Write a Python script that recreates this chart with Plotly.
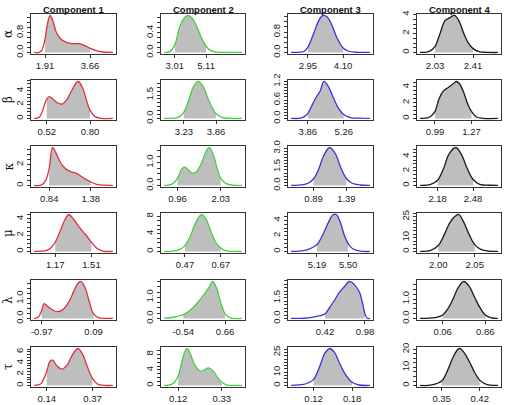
import plotly.graph_objects as go

W, H = 508, 405

params = ["α", "β", "κ", "μ", "λ", "τ"]
components = ["Component 1", "Component 2", "Component 3", "Component 4"]
line_colors = ["#E0303C", "#45D045", "#3636D8", "#1A1A1A"]

# ---------------- alpha ----------------
alpha_c1_x = [1.487, 1.684, 1.790, 1.91, 2.001, 2.106, 2.212, 2.343, 2.502, 2.699, 2.963, 3.226, 3.450, 3.66, 3.885, 4.149, 4.544]
alpha_c1_y = [0.005, 0.01, 0.10, 0.55, 1.15, 1.50, 1.29, 0.83, 0.57, 0.43, 0.36, 0.36, 0.28, 0.17, 0.076, 0.02, 0.005]
alpha_c2_x = [2.286, 2.670, 3.01, 3.347, 3.618, 3.866, 4.137, 4.476, 4.815, 5.11, 5.424, 5.944, 6.7, 7.52]
alpha_c2_y = [0.003, 0.017, 0.16, 0.53, 0.69, 0.75, 0.71, 0.53, 0.29, 0.127, 0.038, 0.006, 0.003, 0.002]
alpha_c3_x = [2.403, 2.699, 2.830, 2.95, 3.137, 3.301, 3.443, 3.575, 3.739, 3.903, 4.10, 4.286, 4.505, 4.975]
alpha_c3_y = [0.005, 0.015, 0.05, 0.21, 0.74, 1.24, 1.45, 1.40, 1.06, 0.57, 0.18, 0.05, 0.01, 0.004]
alpha_c4_x = [1.882, 1.948, 1.988, 2.03, 2.080, 2.130, 2.179, 2.225, 2.268, 2.318, 2.364, 2.41, 2.469, 2.542, 2.657]
alpha_c4_y = [0.01, 0.05, 0.2, 0.62, 1.99, 3.35, 3.67, 3.9, 3.35, 1.99, 0.98, 0.41, 0.09, 0.02, 0.005]

# ---------------- beta ----------------
beta_c1_x = [0.4386, 0.4715, 0.4934, 0.52, 0.5372, 0.5592, 0.5898, 0.6183, 0.6512, 0.6841, 0.7213, 0.7498, 0.7783, 0.80, 0.831, 0.870, 0.947]
beta_c1_y = [0.02, 0.17, 1.17, 2.80, 3.15, 2.80, 2.25, 2.06, 2.75, 4.14, 5.33, 4.53, 2.50, 1.17, 0.27, 0.03, 0.01]
beta_c2_x = [2.843, 3.053, 3.151, 3.23, 3.315, 3.414, 3.512, 3.597, 3.689, 3.775, 3.86, 3.971, 4.136, 4.365]
beta_c2_y = [0.005, 0.03, 0.14, 0.41, 1.07, 2.01, 2.37, 2.10, 1.40, 0.74, 0.30, 0.08, 0.01, 0.003]
beta_c3_x = [3.208, 3.561, 3.717, 3.86, 4.057, 4.214, 4.345, 4.489, 4.672, 4.868, 5.064, 5.26, 5.52, 5.913, 6.279]
beta_c3_y = [0.005, 0.01, 0.06, 0.17, 0.49, 0.73, 0.90, 1.20, 1.02, 0.65, 0.32, 0.13, 0.03, 0.01, 0.003]
beta_c4_x = [0.8757, 0.9317, 0.9647, 0.99, 1.023, 1.0537, 1.0918, 1.1249, 1.1554, 1.1808, 1.2139, 1.2444, 1.27, 1.308, 1.359, 1.473]
beta_c4_y = [0.02, 0.07, 0.37, 0.90, 2.58, 3.46, 3.94, 4.34, 4.69, 4.34, 3.15, 1.70, 0.90, 0.2, 0.03, 0.01]

# ---------------- kappa ----------------
kappa_c1_x = [0.6443, 0.7401, 0.7967, 0.84, 0.8838, 0.9274, 0.9796, 1.0450, 1.1190, 1.1974, 1.2845, 1.38, 1.4588, 1.5676, 1.668]
kappa_c1_y = [0.01, 0.05, 0.51, 1.65, 3.65, 3.13, 2.31, 1.65, 1.33, 1.16, 0.74, 0.34, 0.11, 0.03, 0.01]
kappa_c2_x = [0.6291, 0.8116, 0.96, 1.0604, 1.1433, 1.2263, 1.3258, 1.4336, 1.5580, 1.6658, 1.7488, 1.8483, 1.9478, 2.03, 2.1635, 2.346, 2.553]
kappa_c2_y = [0.005, 0.05, 0.31, 0.71, 0.80, 0.68, 0.53, 0.61, 0.99, 1.47, 1.65, 1.32, 0.71, 0.31, 0.08, 0.01, 0.005]
kappa_c3_x = [0.5479, 0.7368, 0.8134, 0.89, 0.9666, 1.0432, 1.1350, 1.2219, 1.3087, 1.39, 1.4771, 1.6048, 1.7478]
kappa_c3_y = [0.01, 0.07, 0.2, 0.54, 1.30, 2.40, 3.06, 2.56, 1.39, 0.56, 0.18, 0.04, 0.01]
kappa_c4_x = [2.0315, 2.1155, 2.18, 2.2276, 2.2780, 2.3340, 2.3817, 2.4293, 2.48, 2.5357, 2.6198, 2.6898]
kappa_c4_y = [0.02, 0.12, 0.73, 2.23, 4.38, 5.23, 4.24, 2.37, 0.82, 0.16, 0.03, 0.01]

# ---------------- mu ----------------
mu_c1_x = [0.9725, 1.0903, 1.1284, 1.17, 1.2175, 1.2589, 1.2971, 1.3385, 1.3830, 1.4339, 1.4721, 1.51, 1.5612, 1.6153, 1.7108]
mu_c1_y = [0.02, 0.15, 0.44, 1.14, 2.51, 3.87, 4.54, 4.04, 3.21, 2.38, 1.80, 1.14, 0.39, 0.06, 0.01]
mu_c2_x = [0.3538, 0.4044, 0.4418, 0.47, 0.4979, 0.5260, 0.5504, 0.5653, 0.5878, 0.6140, 0.6421, 0.67, 0.7001, 0.7506, 0.788]
mu_c2_y = [0.02, 0.11, 0.5, 1.34, 3.33, 6.17, 7.93, 8.38, 7.31, 4.63, 2.1, 0.8, 0.12, 0.02, 0.005]
mu_c3_x = [4.9333, 5.0565, 5.1232, 5.19, 5.2497, 5.3063, 5.3496, 5.3829, 5.4229, 5.4629, 5.50, 5.5495, 5.6227, 5.716]
mu_c3_y = [0.01, 0.11, 0.37, 0.89, 2.18, 3.78, 4.69, 4.73, 3.70, 2.05, 1.02, 0.32, 0.05, 0.01]
mu_c4_x = [1.9750, 1.9886, 2.00, 2.0077, 2.0159, 2.0227, 2.0278, 2.0341, 2.0423, 2.05, 2.0592, 2.0705, 2.0819]
mu_c4_y = [0.1, 0.6, 4.3, 11.6, 20.8, 25.2, 26.6, 22.0, 12.3, 5.0, 1.3, 0.2, 0.05]

# ---------------- lambda ----------------
lambda_c1_x = [-1.1227, -1.0396, -0.97, -0.9218, -0.8317, -0.7278, -0.6239, -0.5199, -0.416, -0.3121, -0.2289, -0.1735, -0.0904, 0.0017, 0.09, 0.2076, 0.33, 0.4847]
lambda_c1_y = [0.01, 0.06, 0.40, 0.74, 0.57, 0.40, 0.35, 0.48, 0.82, 1.37, 1.76, 1.85, 1.59, 0.86, 0.23, 0.03, 0.008, 0.005]
lambda_c2_x = [-1.087, -0.8278, -0.54, -0.3479, -0.1559, 0.0361, 0.1801, 0.3049, 0.4201, 0.5352, 0.66, 0.8041, 1.140]
lambda_c2_y = [0.02, 0.06, 0.18, 0.38, 0.70, 1.10, 1.42, 1.75, 1.42, 0.75, 0.22, 0.03, 0.005]
lambda_c3_x = [-0.0519, 0.1315, 0.2919, 0.42, 0.4890, 0.5532, 0.6266, 0.6907, 0.7641, 0.8283, 0.9016, 0.9474, 0.98, 1.0116, 1.048]
lambda_c3_y = [0.01, 0.02, 0.14, 0.33, 0.83, 1.33, 1.94, 2.32, 2.70, 2.49, 1.94, 1.08, 0.33, 0.02, 0.0]
lambda_c4_x = [-0.3634, -0.1148, 0.06, 0.1649, 0.2581, 0.3513, 0.4569, 0.5564, 0.6620, 0.7552, 0.86, 0.9727, 1.097]
lambda_c4_y = [0.01, 0.03, 0.18, 0.53, 1.02, 1.58, 1.90, 1.66, 1.08, 0.58, 0.18, 0.03, 0.005]

# ---------------- tau ----------------
tau_c1_x = [0.0767, 0.1091, 0.1261, 0.14, 0.1568, 0.1705, 0.1910, 0.2166, 0.2421, 0.2677, 0.2967, 0.3189, 0.3445, 0.37, 0.3957, 0.4298, 0.4725]
tau_c1_y = [0.03, 0.26, 1.27, 2.56, 4.33, 4.51, 3.50, 2.92, 3.62, 5.39, 6.6, 5.69, 3.33, 1.27, 0.26, 0.04, 0.01]
tau_c2_x = [0.0524, 0.0879, 0.1040, 0.12, 0.1363, 0.1525, 0.1638, 0.1799, 0.2009, 0.2252, 0.2445, 0.2655, 0.2898, 0.3108, 0.33, 0.3544, 0.4028, 0.427]
tau_c2_y = [0.02, 0.3, 0.98, 2.41, 5.64, 8.78, 9.5, 7.93, 5.22, 3.69, 3.94, 4.54, 3.69, 2.0, 0.81, 0.13, 0.02, 0.005]
tau_c3_x = [0.0850, 0.1043, 0.1121, 0.12, 0.1293, 0.1372, 0.1450, 0.1528, 0.1606, 0.1695, 0.18, 0.1904, 0.2076]
tau_c3_y = [0.05, 0.8, 2.1, 4.6, 14.1, 24.1, 28, 24.9, 16.6, 8.4, 2.4, 0.4, 0.05]
tau_c4_x = [0.3104, 0.3317, 0.35, 0.3603, 0.3713, 0.3823, 0.3926, 0.4018, 0.4109, 0.42, 0.4322, 0.4535]
tau_c4_y = [0.05, 0.3, 2.5, 7.95, 15.8, 20.5, 17.7, 12.7, 7.2, 3.0, 0.6, 0.05]

# 95% interval endpoints (x tick labels)
alpha_lo = [1.91, 3.01, 2.95, 2.03];   alpha_hi = [3.66, 5.11, 4.10, 2.41]
beta_lo = [0.52, 3.23, 3.86, 0.99];    beta_hi = [0.80, 3.86, 5.26, 1.27]
kappa_lo = [0.84, 0.96, 0.89, 2.18];   kappa_hi = [1.38, 2.03, 1.39, 2.48]
mu_lo = [1.17, 0.47, 5.19, 2.00];      mu_hi = [1.51, 0.67, 5.50, 2.05]
lambda_lo = [-0.97, -0.54, 0.42, 0.06]; lambda_hi = [0.09, 0.66, 0.98, 0.86]
tau_lo = [0.14, 0.12, 0.12, 0.35];     tau_hi = [0.37, 0.33, 0.18, 0.42]

# y tick labels and tick spacing
alpha_ylab = [["0.0", "0.8"], ["0.0", "0.4"], ["0.0", "0.8"], ["0", "2", "4"]]
beta_ylab = [["0", "2", "4"], ["0.0", "1.5"], ["0.0", "0.6", "1.2"], ["0", "2", "4"]]
kappa_ylab = [["0", "2"], ["0.0", "1.0"], ["0.0", "1.5", "3.0"], ["0", "2", "4"]]
mu_ylab = [["0", "2", "4"], ["0", "4", "8"], ["0", "2", "4"], ["0", "10", "25"]]
lambda_ylab = [["0.0", "1.0"], ["0.0", "1.0"], ["0.0", "1.5"], ["0.0", "1.0"]]
tau_ylab = [["0", "2", "4", "6"], ["0", "4", "8"], ["0", "10", "25"], ["0", "10", "20"]]

alpha_ystep = [0.2, 0.1, 0.2, 0.5]
beta_ystep = [0.5, 0.25, 0.1, 0.5]
kappa_ystep = [0.5, 0.25, 0.25, 0.5]
mu_ystep = [0.5, 1, 0.5, 2.5]
lambda_ystep = [0.25, 0.25, 0.25, 0.25]
tau_ystep = [0.5, 1, 2.5, 2.5]

rows = [
    ([alpha_c1_x, alpha_c2_x, alpha_c3_x, alpha_c4_x], [alpha_c1_y, alpha_c2_y, alpha_c3_y, alpha_c4_y], alpha_lo, alpha_hi, alpha_ylab, alpha_ystep),
    ([beta_c1_x, beta_c2_x, beta_c3_x, beta_c4_x], [beta_c1_y, beta_c2_y, beta_c3_y, beta_c4_y], beta_lo, beta_hi, beta_ylab, beta_ystep),
    ([kappa_c1_x, kappa_c2_x, kappa_c3_x, kappa_c4_x], [kappa_c1_y, kappa_c2_y, kappa_c3_y, kappa_c4_y], kappa_lo, kappa_hi, kappa_ylab, kappa_ystep),
    ([mu_c1_x, mu_c2_x, mu_c3_x, mu_c4_x], [mu_c1_y, mu_c2_y, mu_c3_y, mu_c4_y], mu_lo, mu_hi, mu_ylab, mu_ystep),
    ([lambda_c1_x, lambda_c2_x, lambda_c3_x, lambda_c4_x], [lambda_c1_y, lambda_c2_y, lambda_c3_y, lambda_c4_y], lambda_lo, lambda_hi, lambda_ylab, lambda_ystep),
    ([tau_c1_x, tau_c2_x, tau_c3_x, tau_c4_x], [tau_c1_y, tau_c2_y, tau_c3_y, tau_c4_y], tau_lo, tau_hi, tau_ylab, tau_ystep),
]

# panel box positions in pixels
col_px = [(31, 116), (161, 245), (288, 373), (417, 501)]
row_px = [(14, 54), (80, 120), (146, 187), (213, 253), (280, 320), (347, 387)]

FONT = "Liberation Sans, Arial, Helvetica, sans-serif"
AXCOL = "#333333"
TXTCOL = "#1a1a1a"

fig = go.Figure()
layout = dict(
    width=W, height=H,
    margin=dict(l=0, r=0, t=0, b=0, autoexpand=False),
    paper_bgcolor="white", plot_bgcolor="white",
    showlegend=False,
    font=dict(family=FONT, size=9.5, color=TXTCOL),
)
annotations = []

for r, (xs, ys, los, his, ylabs, ysteps) in enumerate(rows):
    for c in range(4):
        i = r * 4 + c + 1
        xa = "x" if i == 1 else f"x{i}"
        ya = "y" if i == 1 else f"y{i}"
        x, y = xs[c], ys[c]
        lo, hi = los[c], his[c]
        fx = [xv for xv in x if lo - 1e-9 <= xv <= hi + 1e-9]
        fy = [yv for xv, yv in zip(x, y) if lo - 1e-9 <= xv <= hi + 1e-9]
        fig.add_trace(go.Scatter(x=fx, y=fy, mode="lines", fill="tozeroy",
                                 fillcolor="#BEBEBE", line=dict(width=0, shape="spline", color="#BEBEBE"),
                                 xaxis=xa, yaxis=ya, hoverinfo="skip"))
        fig.add_trace(go.Scatter(x=x, y=y, mode="lines",
                                 line=dict(color=line_colors[c], width=1.3, shape="spline"),
                                 xaxis=xa, yaxis=ya, hoverinfo="skip"))
        xmin, xmax = min(x), max(x)
        xr = [xmin - 0.04 * (xmax - xmin), xmax + 0.04 * (xmax - xmin)]
        ymax = max(y)
        yr = [-0.04 * ymax, 1.04 * ymax]
        step = ysteps[c]
        labs = {round(float(s), 6): s for s in ylabs[c]}
        tv, tt = [], []
        k = 0
        while k * step <= yr[1] + 1e-9:
            v = round(k * step, 6)
            tv.append(v)
            tt.append(labs.get(v, ""))
            k += 1
        x0, x1 = col_px[c]
        t0, t1 = row_px[r]
        xdom = [x0 / W, x1 / W]
        ydom = [1 - t1 / H, 1 - t0 / H]
        common = dict(showline=True, mirror=True, linecolor=AXCOL, linewidth=1,
                      showgrid=False, zeroline=False, ticks="outside", ticklen=3,
                      tickwidth=1, tickcolor=AXCOL, automargin=False,
                      tickfont=dict(family=FONT, size=9.5, color=TXTCOL))
        layout["xaxis" if i == 1 else f"xaxis{i}"] = dict(
            common, domain=xdom, anchor=ya, range=xr, tickmode="array",
            tickvals=[lo, hi], ticktext=[f"{lo:.2f}", f"{hi:.2f}"])
        layout["yaxis" if i == 1 else f"yaxis{i}"] = dict(
            common, domain=ydom, anchor=xa, range=yr, tickmode="array",
            tickvals=tv, ticktext=tt, tickangle=-90)

# column titles
for c, name in enumerate(components):
    x0, x1 = col_px[c]
    annotations.append(dict(text=f"<b>{name}</b>", x=(x0 + x1) / 2 / W, y=1 - 9 / H,
                            xref="paper", yref="paper", showarrow=False,
                            xanchor="center", yanchor="middle",
                            font=dict(family=FONT, size=9.5, color="#111")))
# row labels
for r, p in enumerate(params):
    t0, t1 = row_px[r]
    annotations.append(dict(text=p, x=8 / W, y=1 - (t0 + t1) / 2 / H,
                            xref="paper", yref="paper", showarrow=False,
                            xanchor="center", yanchor="middle", textangle=-90,
                            font=dict(family="DejaVu Serif, serif", size=12, color="#111")))

layout["annotations"] = annotations
fig.update_layout(**layout)
fig.write_html("out.html", config={"displayModeBar": False})
